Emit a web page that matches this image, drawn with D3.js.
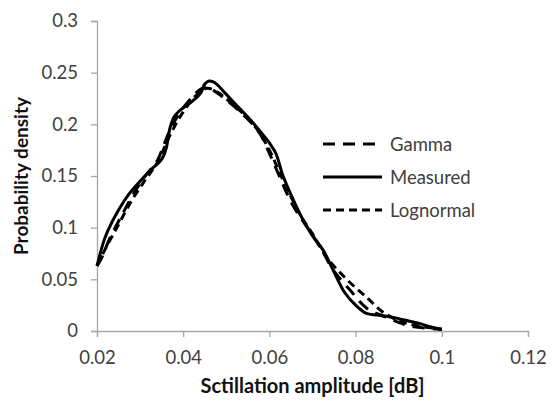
<!DOCTYPE html>
<html>
<head>
<meta charset="utf-8">
<script src="https://cdn.jsdelivr.net/npm/d3@7"></script>
<style>
  body { margin: 0; background: #fff; }
  .chart text { font-family: Lato, "Open Sans", sans-serif; }
</style>
</head>
<body>
<div class="chart"></div>
<script>
// measured curve
const measuredX = [0.02, 0.0215, 0.0225, 0.025, 0.0275, 0.03, 0.0325, 0.035, 0.036, 0.037, 0.038, 0.04, 0.042, 0.044, 0.045, 0.046, 0.047, 0.048, 0.05, 0.0525, 0.055, 0.0575, 0.06, 0.0615, 0.063, 0.065, 0.0675, 0.07, 0.0725, 0.075, 0.0775, 0.08, 0.0825, 0.085, 0.0875, 0.09, 0.0925, 0.095, 0.0975, 0.1];
const measuredY = [0.063, 0.086, 0.097, 0.117, 0.133, 0.145, 0.156, 0.166, 0.176, 0.1975, 0.208, 0.216, 0.222, 0.230, 0.239, 0.242, 0.241, 0.238, 0.229, 0.218, 0.207, 0.195, 0.182, 0.172, 0.152, 0.132, 0.110, 0.092, 0.078, 0.057, 0.037, 0.025, 0.017, 0.0155, 0.014, 0.012, 0.0095, 0.007, 0.004, 0.0015];

// gamma fit
const gammaX = [0.02, 0.021, 0.023, 0.0255, 0.0285, 0.031, 0.034, 0.0355, 0.037, 0.039, 0.042, 0.044, 0.0455, 0.048, 0.0505, 0.053, 0.0575, 0.06, 0.0625, 0.065, 0.0675, 0.07, 0.0725, 0.0748, 0.0787, 0.0826, 0.0872, 0.0926, 0.1];
const gammaY = [0.063, 0.070, 0.090, 0.110, 0.133, 0.149, 0.165, 0.180, 0.195, 0.210, 0.226, 0.234, 0.236, 0.230, 0.222, 0.213, 0.193, 0.172, 0.148, 0.125, 0.108, 0.093, 0.076, 0.059, 0.0396, 0.022, 0.0132, 0.0048, 0.0016];

// lognormal fit
const lognormalX = [0.02, 0.022, 0.025, 0.028, 0.031, 0.034, 0.037, 0.04, 0.043, 0.0455, 0.048, 0.051, 0.054, 0.057, 0.06, 0.0625, 0.065, 0.0675, 0.07, 0.0735, 0.0781, 0.0828, 0.0862, 0.09, 0.0934, 0.1];
const lognormalY = [0.063, 0.080, 0.103, 0.126, 0.145, 0.163, 0.190, 0.212, 0.228, 0.235, 0.231, 0.221, 0.210, 0.196, 0.175, 0.152, 0.130, 0.110, 0.094, 0.0703, 0.0493, 0.0316, 0.0187, 0.010, 0.0058, 0.0016];

const xTicks = [0.02, 0.04, 0.06, 0.08, 0.1, 0.12];
const yTicks = [0, 0.05, 0.1, 0.15, 0.2, 0.25, 0.3];

const series = [
  { name: 'Gamma', xs: gammaX, ys: gammaY, dash: '12,8' },
  { name: 'Measured', xs: measuredX, ys: measuredY, dash: null },
  { name: 'Lognormal', xs: lognormalX, ys: lognormalY, dash: '8,5' }
];

const width = 556, height = 401;
const margin = { left: 97, right: 28, top: 21, bottom: 70 };
const graphWidth = width - margin.left - margin.right;
const graphHeight = height - margin.top - margin.bottom;

const svg = d3.select('.chart')
  .append('svg')
  .attr('width', width)
  .attr('height', height);

const graph = svg.append('g')
  .attr('transform', `translate(${margin.left}, ${margin.top})`);

const x = d3.scaleLinear().domain([0.02, 0.12]).range([0, graphWidth]);
const y = d3.scaleLinear().domain([0, 0.3]).range([graphHeight, 0]);

// axes
const xAxis = d3.axisBottom(x).tickValues(xTicks).tickSize(6).tickPadding(14)
  .tickFormat(d => d3.format('~g')(d));
const yAxis = d3.axisLeft(y).tickValues(yTicks).tickSize(6).tickPadding(13)
  .tickFormat(d => d3.format('~g')(d));

const styleAxis = g => {
  g.selectAll('.domain, line').attr('stroke', '#a6a6a6').attr('stroke-width', 1.3);
  g.selectAll('text').attr('fill', '#404040').attr('font-size', 18.5);
};

graph.append('g')
  .attr('transform', `translate(0, ${graphHeight})`)
  .call(xAxis)
  .call(styleAxis);

graph.append('g')
  .call(yAxis)
  .call(styleAxis);

// curves
const line = d3.line()
  .x(d => x(d[0]))
  .y(d => y(d[1]))
  .curve(d3.curveCatmullRom);

graph.selectAll('.curve')
  .data(series)
  .join('path')
  .attr('class', 'curve')
  .attr('fill', 'none')
  .attr('stroke', '#000')
  .attr('stroke-width', 3)
  .attr('stroke-dasharray', d => d.dash)
  .attr('d', d => line(d.xs.map((v, i) => [v, d.ys[i]])));

// axis titles
svg.append('text')
  .attr('x', margin.left + graphWidth / 2)
  .attr('y', 393)
  .attr('text-anchor', 'middle')
  .attr('font-size', 20)
  .attr('font-weight', 'bold')
  .attr('fill', '#111')
  .text('Sctillation amplitude [dB]');

svg.append('text')
  .attr('transform', `translate(28, ${margin.top + graphHeight / 2}) rotate(-90)`)
  .attr('text-anchor', 'middle')
  .attr('font-size', 19)
  .attr('font-weight', 'bold')
  .attr('fill', '#111')
  .text('Probability density');

// legend
const legend = svg.append('g')
  .attr('transform', 'translate(323, 144)')
  .selectAll('g')
  .data(series)
  .join('g')
  .attr('transform', (d, i) => `translate(0, ${i * 33})`);

legend.append('line')
  .attr('x1', 0).attr('x2', 59)
  .attr('stroke', '#000')
  .attr('stroke-width', 3)
  .attr('stroke-dasharray', d => d.dash);

legend.append('text')
  .attr('x', 67)
  .attr('y', 6.5)
  .attr('font-size', 18.5)
  .attr('fill', '#404040')
  .text(d => d.name);
</script>
</body>
</html>
